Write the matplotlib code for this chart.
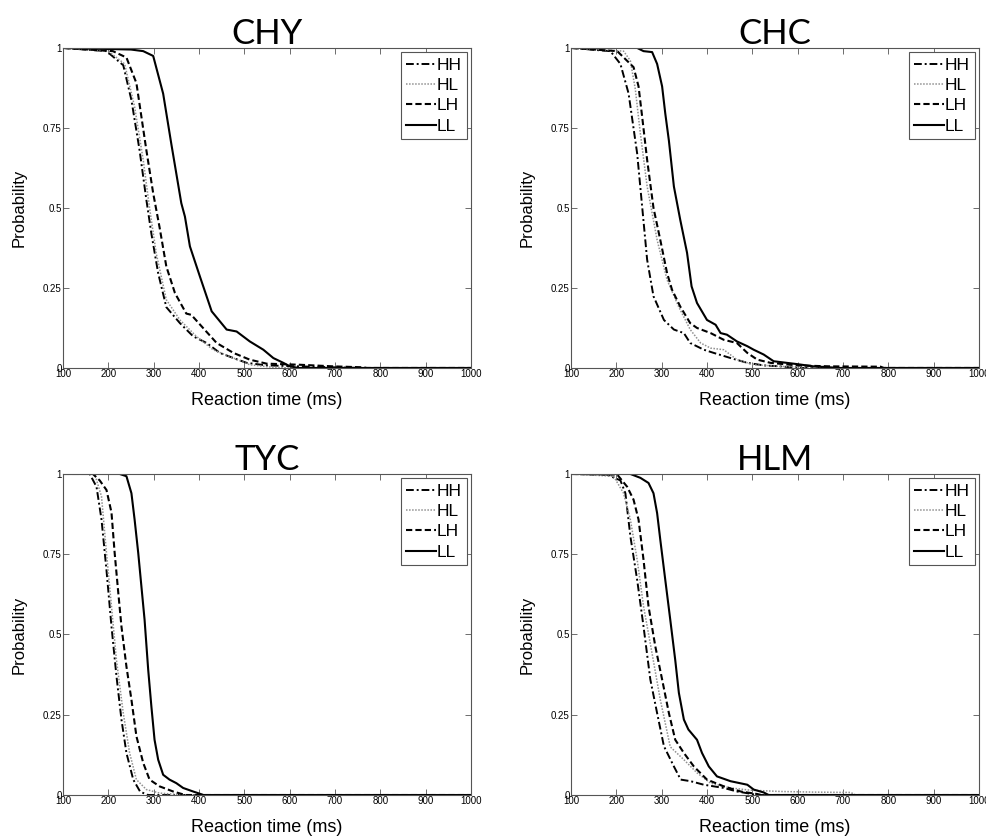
import matplotlib
matplotlib.use('Agg')
import matplotlib.pyplot as plt

# survival curves, (reaction time in ms, probability)
CHY_HH = [(100, 1), (196, 0.99), (233, 0.946), (251, 0.837), (269, 0.68), (284, 0.525), (295, 0.42),
          (310, 0.296), (328, 0.19), (358, 0.14), (387, 0.099), (417, 0.078), (446, 0.047),
          (476, 0.031), (505, 0.016), (549, 0.008), (623, 0.005), (697, 0.002), (760, 0), (1000, 0)]
CHY_HL = [(100, 1), (200, 0.99), (236, 0.95), (258, 0.816), (277, 0.65), (291, 0.50), (306, 0.356),
          (328, 0.213), (358, 0.15), (394, 0.099), (431, 0.057), (476, 0.031), (512, 0.01),
          (564, 0.002), (600, 0), (1000, 0)]
CHY_LH = [(100, 1), (210, 0.99), (240, 0.97), (262, 0.89), (284, 0.68), (299, 0.546), (313, 0.44),
          (328, 0.317), (347, 0.234), (372, 0.17), (383, 0.166), (409, 0.125), (439, 0.078),
          (476, 0.047), (512, 0.026), (549, 0.0135), (623, 0.01), (697, 0.005), (763, 0.002),
          (770, 0), (1000, 0)]
CHY_LL = [(100, 1), (250, 0.995), (277, 0.99), (299, 0.975), (321, 0.857), (339, 0.70), (361, 0.515),
          (369, 0.473), (380, 0.38), (402, 0.286), (428, 0.177), (461, 0.12), (483, 0.114),
          (512, 0.083), (542, 0.057), (564, 0.031), (586, 0.016), (601, 0.005), (620, 0), (1000, 0)]

CHC_HH = [(100, 1), (187, 0.99), (209, 0.95), (227, 0.858), (246, 0.67), (257, 0.504), (268, 0.338),
          (282, 0.224), (305, 0.15), (327, 0.12), (349, 0.109), (363, 0.078), (393, 0.057),
          (415, 0.047), (452, 0.031), (489, 0.016), (525, 0.008), (562, 0.005), (600, 0), (1000, 0)]
CHC_HL = [(100, 1), (216, 0.99), (231, 0.96), (242, 0.87), (253, 0.733), (268, 0.567), (290, 0.40),
          (312, 0.275), (338, 0.19), (363, 0.12), (386, 0.078), (408, 0.062), (437, 0.057),
          (466, 0.026), (503, 0.01), (562, 0.005), (636, 0.002), (650, 0), (1000, 0)]
CHC_LH = [(100, 1), (202, 0.99), (238, 0.94), (249, 0.88), (257, 0.785), (268, 0.65), (282, 0.50),
          (297, 0.40), (312, 0.296), (323, 0.244), (341, 0.192), (363, 0.14), (378, 0.125),
          (408, 0.109), (437, 0.088), (466, 0.078), (489, 0.047), (511, 0.026), (540, 0.016),
          (599, 0.008), (672, 0.005), (783, 0.004), (790, 0), (1000, 0)]
CHC_LL = [(100, 1), (246, 1), (260, 0.99), (279, 0.987), (290, 0.95), (301, 0.88), (308, 0.795),
          (316, 0.71), (327, 0.567), (341, 0.463), (356, 0.36), (366, 0.255), (378, 0.203),
          (400, 0.15), (419, 0.135), (430, 0.109), (444, 0.104), (466, 0.083), (489, 0.068),
          (503, 0.057), (525, 0.042), (547, 0.021), (599, 0.012), (635, 0.005), (672, 0.002),
          (690, 0), (1000, 0)]

TYC_HH = [(100, 1), (159, 1), (174, 0.96), (185, 0.858), (196, 0.70), (207, 0.525), (218, 0.37),
          (229, 0.235), (240, 0.131), (255, 0.048), (270, 0.011), (285, 0.001), (290, 0), (1000, 0)]
TYC_HL = [(100, 1), (170, 1), (185, 0.93), (196, 0.754), (207, 0.588), (218, 0.42), (233, 0.255),
          (247, 0.131), (262, 0.048), (284, 0.017), (313, 0.006), (358, 0.001), (365, 0), (1000, 0)]
TYC_LH = [(100, 1), (166, 1), (181, 0.98), (196, 0.95), (207, 0.88), (214, 0.754), (222, 0.63),
          (229, 0.525), (240, 0.40), (251, 0.297), (262, 0.183), (277, 0.10), (291, 0.048),
          (313, 0.027), (343, 0.011), (365, 0.002), (370, 0), (1000, 0)]
TYC_LL = [(100, 1), (225, 1), (240, 0.993), (251, 0.94), (258, 0.858), (266, 0.754), (273, 0.65),
          (280, 0.546), (288, 0.39), (295, 0.276), (302, 0.172), (310, 0.11), (321, 0.063),
          (335, 0.048), (350, 0.037), (365, 0.022), (387, 0.011), (406, 0.002), (410, 0), (1000, 0)]

HLM_HH = [(100, 1), (179, 0.998), (209, 0.98), (220, 0.94), (231, 0.806), (246, 0.67), (260, 0.525),
          (275, 0.36), (290, 0.255), (305, 0.152), (327, 0.089), (342, 0.048), (364, 0.043),
          (393, 0.032), (437, 0.022), (466, 0.011), (496, 0.004), (510, 0), (1000, 0)]
HLM_HL = [(100, 1), (194, 0.993), (216, 0.94), (231, 0.858), (246, 0.733), (260, 0.588), (279, 0.44),
          (297, 0.297), (319, 0.15), (349, 0.11), (378, 0.069), (408, 0.037), (452, 0.022),
          (496, 0.015), (562, 0.011), (636, 0.009), (717, 0.008), (728, 0), (1000, 0)]
HLM_LH = [(100, 1), (202, 0.998), (224, 0.96), (238, 0.92), (249, 0.858), (260, 0.733), (271, 0.588),
          (286, 0.463), (301, 0.36), (316, 0.255), (330, 0.172), (349, 0.131), (371, 0.089),
          (400, 0.048), (437, 0.027), (474, 0.011), (511, 0.003), (520, 0), (1000, 0)]
HLM_LL = [(100, 1), (231, 1), (253, 0.988), (271, 0.972), (282, 0.94), (290, 0.878), (297, 0.795),
          (308, 0.67), (319, 0.546), (330, 0.42), (338, 0.318), (349, 0.235), (359, 0.204),
          (378, 0.172), (389, 0.131), (404, 0.089), (422, 0.058), (452, 0.043), (489, 0.032),
          (503, 0.017), (525, 0.008), (536, 0), (1000, 0)]

subjects = ['CHY', 'CHC', 'TYC', 'HLM']
conditions = ['HH', 'HL', 'LH', 'LL']
curves = {
  'CHY': [CHY_HH, CHY_HL, CHY_LH, CHY_LL],
  'CHC': [CHC_HH, CHC_HL, CHC_LH, CHC_LL],
  'TYC': [TYC_HH, TYC_HL, TYC_LH, TYC_LL],
  'HLM': [HLM_HH, HLM_HL, HLM_LH, HLM_LL],
}
x_ticks = [100, 200, 300, 400, 500, 600, 700, 800, 900, 1000]
y_ticks = [0, 0.25, 0.5, 0.75, 1]
y_ticklabels = ['0', '0.25', '0.5', '0.75', '1']

# estilos de linea tipo matlab
styles = [
  dict(color='black', lw=1.4, linestyle=(0, (4, 1.5, 1, 1.5))),
  dict(color='#909090', lw=1.1, linestyle=(0, (1, 1))),
  dict(color='black', lw=1.5, linestyle=(0, (3, 1.5))),
  dict(color='black', lw=1.5, linestyle='-'),
]

plt.rcParams['font.family'] = ['Liberation Sans', 'DejaVu Sans']

fig = plt.figure(figsize=(9.87, 8.38), dpi=100)
positions = [
  [0.0638, 0.5609, 0.4134, 0.3819],
  [0.5785, 0.5609, 0.4134, 0.3819],
  [0.0638, 0.0513, 0.4134, 0.3831],
  [0.5785, 0.0513, 0.4134, 0.3831],
]

for i in range(0, len(subjects)):
  name = subjects[i]
  ax = fig.add_axes(positions[i])
  for j in range(0, len(conditions)):
    data = curves[name][j]
    t = [d[0] for d in data]
    p = [d[1] for d in data]
    ax.plot(t, p, label=conditions[j], **styles[j])

  ax.set_xlim(100, 1000)
  ax.set_ylim(0, 1)
  ax.set_xticks(x_ticks)
  ax.set_yticks(y_ticks)
  ax.set_yticklabels(y_ticklabels)
  ax.tick_params(direction='in', top=True, right=True, labelsize=7, length=4,
                 width=0.6, color='#555555', pad=1)
  for s in ax.spines.values():
    s.set_color('#555555')
    s.set_linewidth(0.8)

  ax.set_title(name, fontsize=25, family=['Lato', 'DejaVu Sans'], pad=3)
  ax.set_xlabel('Reaction time (ms)', fontsize=13, labelpad=9)
  ax.set_ylabel('Probability', fontsize=12, labelpad=12)

  leg = ax.legend(loc='upper right', fontsize=12.5, fancybox=False, framealpha=1,
                  edgecolor='#555555', borderaxespad=0.25, handlelength=1.7,
                  handletextpad=0.05, labelspacing=0.3, borderpad=0.3)
  leg.get_frame().set_linewidth(0.8)

fig.savefig('out.png', dpi=100)
